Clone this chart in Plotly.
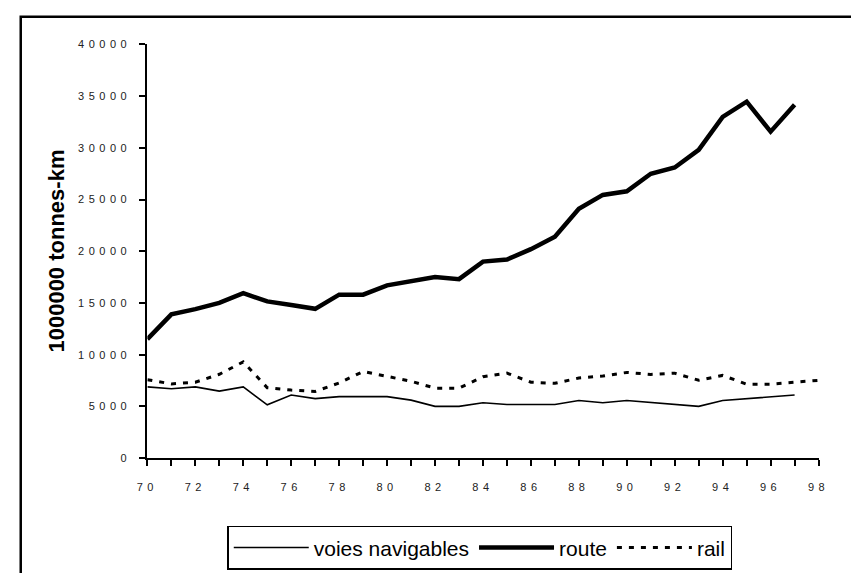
import plotly.graph_objects as go

# Years (two-digit) and freight volumes in millions of tonne-km
years = list(range(70, 99))

voies_navigables = [6880, 6700, 6880, 6470, 6880, 5150, 6100, 5750, 5940, 5940,
                    5940, 5600, 5000, 5000, 5340, 5180, 5180, 5180, 5560, 5340,
                    5560, 5370, 5180, 5000, 5560, 5740, 5920, 6100]

route = [11500, 13900, 14400, 15000, 15950, 15150, 14800, 14430, 15800, 15800,
         16700, 17100, 17500, 17300, 19000, 19200, 20200, 21400, 24100, 25450,
         25800, 27500, 28100, 29800, 33000, 34470, 31570, 34160]

rail = [7580, 7170, 7330, 8100, 9300, 6800, 6570, 6440, 7260, 8370,
        7900, 7420, 6760, 6760, 7860, 8210, 7330, 7230, 7740, 7930,
        8280, 8090, 8210, 7520, 7990, 7140, 7140, 7330, 7520]

x_ticks = list(range(70, 99, 2))
y_ticks = list(range(0, 40001, 5000))
y_title = "1000000 tonnes-km"

W, H = 851, 573
FONT = "Liberation Sans, Arial, sans-serif"


def spaced(label):
    # widely tracked tick labels
    return '<span style="letter-spacing:4.5px">%s</span>' % label


fig = go.Figure()
fig.add_trace(go.Scatter(x=years[:len(voies_navigables)], y=voies_navigables,
                         name="voies navigables", mode="lines",
                         line=dict(color="black", width=1.6)))
fig.add_trace(go.Scatter(x=years[:len(route)], y=route, name="route", mode="lines",
                         line=dict(color="black", width=4.5)))
fig.add_trace(go.Scatter(x=years[:len(rail)], y=rail, name="rail", mode="lines",
                         line=dict(color="black", width=3, dash="5px,7px")))

# plot area in pixels
px_left, px_right = 140, 829
px_top, px_bottom = 39.3, 461.7

tick_font = dict(family=FONT, size=11, color="#222")

fig.update_layout(
    width=W, height=H,
    margin=dict(l=0, r=0, t=0, b=0),
    paper_bgcolor="white", plot_bgcolor="white",
    showlegend=True,
    xaxis=dict(
        domain=[px_left / W, px_right / W],
        range=[70, 98],
        tickmode="array", tickvals=x_ticks,
        ticktext=[spaced(v) for v in x_ticks],
        showgrid=False, zeroline=False,
        showline=True, linecolor="black", linewidth=2,
        ticks="outside", ticklen=6, tickwidth=1.5, tickcolor="black",
        minor=dict(tickmode="array", tickvals=years, ticks="outside",
                   ticklen=6, tickwidth=1.5, tickcolor="black", showgrid=False),
        tickfont=tick_font, ticklabelstandoff=12,
    ),
    yaxis=dict(
        domain=[1 - px_bottom / H, 1 - px_top / H],
        range=[0, 40000],
        tickmode="array", tickvals=y_ticks,
        ticktext=[spaced(v) for v in y_ticks],
        showgrid=False, zeroline=False,
        showline=True, linecolor="black", linewidth=2,
        ticks="outside", ticklen=6, tickwidth=1.5, tickcolor="black",
        tickfont=tick_font, ticklabelstandoff=6,
    ),
    legend=dict(
        orientation="h",
        x=222 / W, xanchor="left",
        y=1 - 531 / H, yanchor="top",
        bordercolor="black", borderwidth=1.5,
        bgcolor="white",
        font=dict(family=FONT, size=21, color="black"),
        itemwidth=75,
    ),
    annotations=[dict(
        text=y_title, textangle=-90,
        x=47 / W, y=1 - 250 / H, xref="paper", yref="paper",
        xanchor="center", yanchor="middle", showarrow=False,
        font=dict(family=FONT, size=22, color="black", weight="bold"),
    )],
    shapes=[dict(
        type="rect", xref="paper", yref="paper",
        x0=10 / W, x1=1.02, y0=-0.05, y1=1 - 11 / H,
        line=dict(color="black", width=2.5), fillcolor="rgba(0,0,0,0)",
        layer="below",
    )],
)

fig.write_html("out.html")
